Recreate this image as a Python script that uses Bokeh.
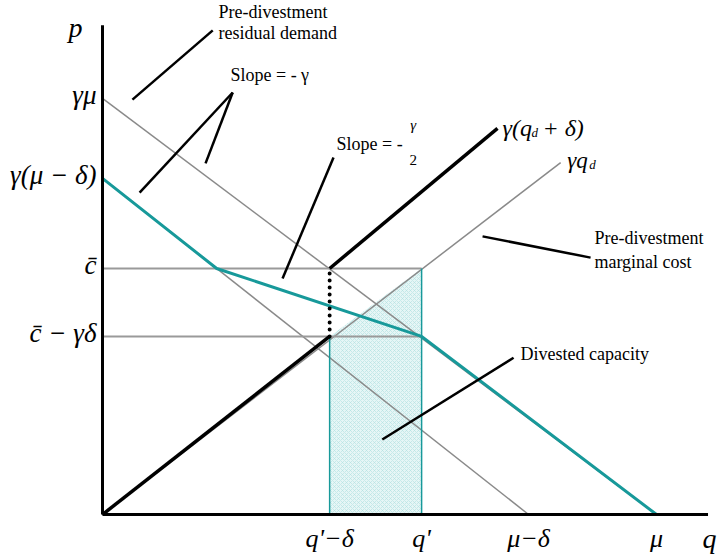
from bokeh.plotting import figure
from bokeh.models import Range1d
from bokeh.core.properties import value
from bokeh.embed import file_html
from bokeh.resources import INLINE

# ---- key levels of the diagram (quantity q, price p) ----
mu = 10.0
mu_minus_delta = 7.69
q_prime = 5.76
q_prime_minus_delta = 4.10
gamma_mu = 9.98
gamma_mu_minus_delta = 8.06
c_bar = 5.90
c_bar_minus_gd = 4.27
q_axis_end = 10.93
p_axis_end = 11.73

# pre-divestment residual demand and shifted demand
demand_pre_q = [0, mu]
demand_pre_p = [gamma_mu, 0]
demand_low_q = [0, mu_minus_delta]
demand_low_p = [gamma_mu_minus_delta, 0]
kink_q = mu_minus_delta * (1 - c_bar / gamma_mu_minus_delta)
teal_q = [0, kink_q, q_prime, mu]
teal_p = [gamma_mu_minus_delta, c_bar, c_bar_minus_gd, 0]

# marginal cost curves
mc_pre_q = [0, 8.27]
mc_pre_p = [0, 8.44]
mc_low_q = [0, q_prime_minus_delta]
mc_low_p = [0, c_bar_minus_gd]
mc_high_q = [q_prime_minus_delta, 7.13]
mc_high_p = [c_bar, 9.26]

# divested capacity region
cap_q = [q_prime_minus_delta, q_prime_minus_delta, q_prime, q_prime]
cap_p = [0, c_bar_minus_gd, c_bar, 0]

# annotation pointers
ptr_q = [[1.99, 0.54], [2.35, 0.67], [2.35, 1.86], [4.17, 3.25], [6.86, 8.81], [7.42, 5.05]]
ptr_p = [[11.61, 9.95], [10.12, 7.72], [10.12, 8.42], [8.56, 5.66], [6.67, 6.16], [3.76, 1.80]]

# tick labels
ytick_vals = [gamma_mu, gamma_mu_minus_delta, c_bar, c_bar_minus_gd]
ytick_labels = ["γμ", "γ(μ − δ)", "c̄", "c̄ − γδ"]
xtick_vals = [q_prime_minus_delta, q_prime, mu_minus_delta, mu]
xtick_labels = ["q'−δ", "q'", "μ−δ", "μ"]

SERIF = value("Liberation Serif")
GREY = "#8a8a8a"
TEAL = "#17999a"
BASE_SHIFT = -5  # screen-pixel correction for alphabetic baselines

p = figure(width=717, height=554, output_backend="svg", toolbar_location=None,
           x_range=Range1d(-1.8412, 11.101), y_range=Range1d(-0.959, 12.326),
           min_border=0, min_border_left=0, min_border_right=0,
           min_border_top=0, min_border_bottom=0)
p.axis.visible = False
p.grid.visible = False
p.outline_line_color = None
p.background_fill_color = "white"
p.border_fill_color = "white"

# shaded divested capacity
p.patch(cap_q, cap_p, fill_color="#e6f6f6", line_color=None,
        hatch_pattern="x", hatch_color="#b0e0e0", hatch_scale=4, hatch_weight=0.6)

# grey lines
p.line(demand_pre_q, demand_pre_p, line_color=GREY, line_width=1.5)
p.line(demand_low_q, demand_low_p, line_color=GREY, line_width=1.5)
p.line(mc_pre_q, mc_pre_p, line_color=GREY, line_width=1.5)
p.line([0, q_prime], [c_bar, c_bar], line_color="#9a9a9a", line_width=2)
p.line([0, q_prime], [c_bar_minus_gd, c_bar_minus_gd], line_color="#9a9a9a", line_width=2)

# teal verticals and thick teal residual demand
p.line([q_prime_minus_delta, q_prime_minus_delta], [0, c_bar_minus_gd], line_color=TEAL, line_width=1.5)
p.line([q_prime, q_prime], [0, c_bar], line_color=TEAL, line_width=1.5)
p.line(teal_q, teal_p, line_color=TEAL, line_width=3)

# black post-divestment marginal cost
p.line(mc_low_q, mc_low_p, line_color="black", line_width=3.5)
p.line(mc_high_q, mc_high_p, line_color="black", line_width=3.5)
p.line([q_prime_minus_delta, q_prime_minus_delta], [c_bar_minus_gd, c_bar],
       line_color="black", line_width=4, line_dash="0 7", line_cap="round")

# pointers
p.multi_line(ptr_q, ptr_p, line_color="black", line_width=2.5)

# axes
p.line([0, 0], [0, p_axis_end], line_color="black", line_width=3)
p.line([0, q_axis_end], [0, 0], line_color="black", line_width=3)

# tick labels
p.text(x=[0] * len(ytick_vals), y=ytick_vals, text=ytick_labels, x_offset=-6, y_offset=-3,
       text_align="right", text_baseline="middle", text_font=SERIF,
       text_font_style="italic", text_font_size="27px", text_color="black")
p.text(x=xtick_vals, y=[0] * len(xtick_vals), text=xtick_labels, y_offset=29 + BASE_SHIFT,
       text_align="center", text_baseline="alphabetic", text_font=SERIF,
       text_font_style="italic", text_font_size="26px", text_color="black")


def note(x, y, s, size="18px", style="normal", align="left", dx=0, dy=0):
    p.text(x=[x], y=[y], text=[s], text_align=align, text_baseline="alphabetic",
           x_offset=dx, y_offset=dy + BASE_SHIFT,
           text_font=SERIF, text_font_style=style, text_font_size=size, text_color="black")


# axis names
note(-0.487, 11.56, "p", size="28px", style="italic", align="center")
note(10.83, -0.695, "q", size="28px", style="italic")

note(2.094, 11.92, "Pre-divestment")
note(2.094, 11.415, "residual demand")
note(2.31, 10.41, "Slope = - γ")
note(4.224, 8.753, "Slope = -")
note(5.61, 9.21, "γ", size="15px", style="italic", align="center")
note(5.61, 8.37, "2", size="15px", align="center")
# gamma(q_d + delta)
note(7.22, 9.14, "γ(q", size="24px", style="italic")
note(7.22, 9.14, "d", size="13px", style="italic", dx=29, dy=4)
note(7.22, 9.14, "+ δ)", size="24px", style="italic", dx=40)
# gamma q_d
note(8.39, 8.37, "γq", size="23px", style="italic")
note(8.39, 8.37, "d", size="13px", style="italic", dx=22, dy=4)
note(8.88, 6.50, "Pre-divestment")
note(8.88, 5.947, "marginal cost")
note(7.545, 3.741, "Divested capacity")

open("out.html", "w").write(file_html(p, INLINE))
